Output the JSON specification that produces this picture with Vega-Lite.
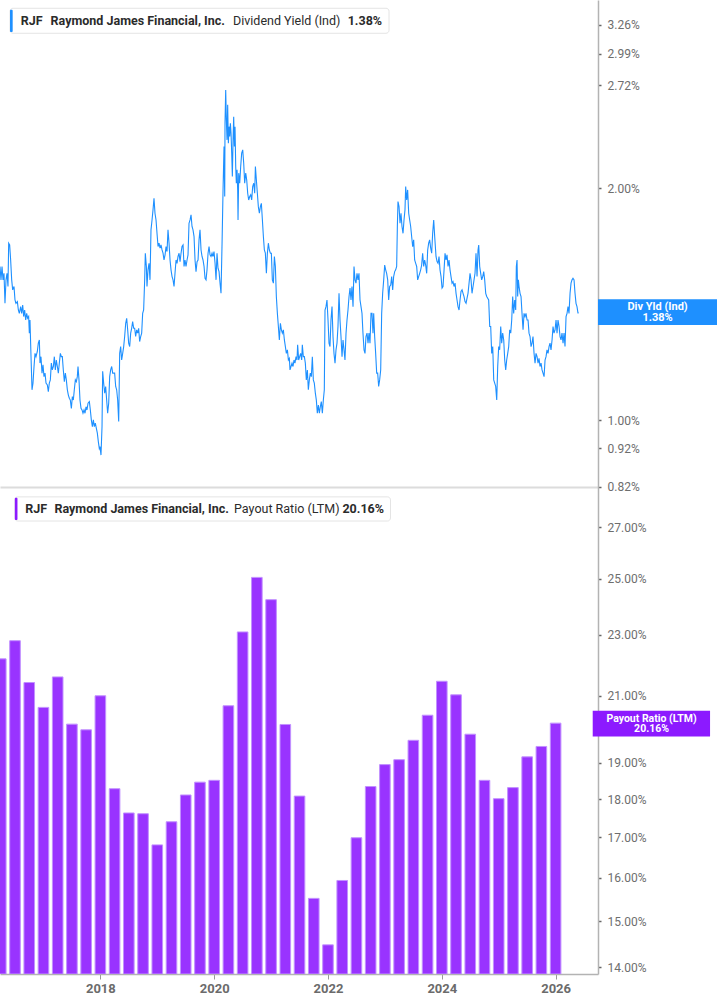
{
"$schema": "https://vega.github.io/schema/vega-lite/v6.json",
"padding": 0,
"spacing": 0,
"bounds": "flush",
"background": "white",
"config": {"view": {"stroke": null}, "font": "Roboto", "text": {"font": "Roboto"}},
"datasets": {
"yield": [
{"year":2016.324,"dy":1.583},{"year":2016.341,"dy":1.521},{"year":2016.359,"dy":1.583},{"year":2016.376,"dy":1.521},{"year":2016.393,"dy":1.551},{"year":2016.410,"dy":1.418},{"year":2016.428,"dy":1.521},{"year":2016.445,"dy":1.551},{"year":2016.462,"dy":1.491},{"year":2016.474,"dy":1.697},{"year":2016.491,"dy":1.688},{"year":2016.508,"dy":1.614},{"year":2016.526,"dy":1.521},{"year":2016.543,"dy":1.476},{"year":2016.566,"dy":1.491},{"year":2016.583,"dy":1.432},{"year":2016.600,"dy":1.418},{"year":2016.624,"dy":1.425},{"year":2016.641,"dy":1.390},{"year":2016.658,"dy":1.376},{"year":2016.681,"dy":1.404},{"year":2016.698,"dy":1.376},{"year":2016.716,"dy":1.411},{"year":2016.733,"dy":1.363},{"year":2016.750,"dy":1.390},{"year":2016.768,"dy":1.349},{"year":2016.785,"dy":1.376},{"year":2016.802,"dy":1.356},{"year":2016.819,"dy":1.363},{"year":2016.831,"dy":1.297},{"year":2016.842,"dy":1.349},{"year":2016.860,"dy":1.209},{"year":2016.877,"dy":1.095},{"year":2016.894,"dy":1.117},{"year":2016.912,"dy":1.174},{"year":2016.929,"dy":1.221},{"year":2016.946,"dy":1.209},{"year":2016.969,"dy":1.228},{"year":2016.986,"dy":1.259},{"year":2017.004,"dy":1.271},{"year":2017.015,"dy":1.186},{"year":2017.032,"dy":1.209},{"year":2017.050,"dy":1.151},{"year":2017.067,"dy":1.180},{"year":2017.084,"dy":1.139},{"year":2017.102,"dy":1.151},{"year":2017.119,"dy":1.117},{"year":2017.142,"dy":1.111},{"year":2017.159,"dy":1.089},{"year":2017.176,"dy":1.117},{"year":2017.194,"dy":1.128},{"year":2017.211,"dy":1.186},{"year":2017.228,"dy":1.162},{"year":2017.246,"dy":1.174},{"year":2017.263,"dy":1.209},{"year":2017.280,"dy":1.162},{"year":2017.297,"dy":1.197},{"year":2017.315,"dy":1.174},{"year":2017.332,"dy":1.151},{"year":2017.349,"dy":1.186},{"year":2017.367,"dy":1.221},{"year":2017.384,"dy":1.209},{"year":2017.401,"dy":1.209},{"year":2017.418,"dy":1.162},{"year":2017.436,"dy":1.122},{"year":2017.453,"dy":1.151},{"year":2017.470,"dy":1.128},{"year":2017.488,"dy":1.095},{"year":2017.505,"dy":1.078},{"year":2017.522,"dy":1.068},{"year":2017.539,"dy":1.062},{"year":2017.557,"dy":1.036},{"year":2017.574,"dy":1.073},{"year":2017.591,"dy":1.062},{"year":2017.608,"dy":1.095},{"year":2017.626,"dy":1.128},{"year":2017.643,"dy":1.122},{"year":2017.660,"dy":1.139},{"year":2017.672,"dy":1.174},{"year":2017.689,"dy":1.128},{"year":2017.706,"dy":1.062},{"year":2017.724,"dy":1.036},{"year":2017.741,"dy":1.031},{"year":2017.758,"dy":1.021},{"year":2017.776,"dy":1.031},{"year":2017.793,"dy":1.021},{"year":2017.810,"dy":1.041},{"year":2017.827,"dy":1.031},{"year":2017.845,"dy":1.052},{"year":2017.868,"dy":1.057},{"year":2017.885,"dy":1.031},{"year":2017.902,"dy":1.001},{"year":2017.920,"dy":0.981},{"year":2017.937,"dy":1.001},{"year":2017.954,"dy":0.981},{"year":2017.971,"dy":0.991},{"year":2017.989,"dy":0.976},{"year":2018.006,"dy":0.962},{"year":2018.023,"dy":0.938},{"year":2018.040,"dy":0.919},{"year":2018.052,"dy":0.924},{"year":2018.069,"dy":0.901},{"year":2018.087,"dy":0.981},{"year":2018.098,"dy":1.157},{"year":2018.115,"dy":1.117},{"year":2018.133,"dy":1.084},{"year":2018.150,"dy":1.106},{"year":2018.167,"dy":1.062},{"year":2018.184,"dy":1.021},{"year":2018.202,"dy":1.052},{"year":2018.219,"dy":1.139},{"year":2018.236,"dy":1.162},{"year":2018.254,"dy":1.174},{"year":2018.271,"dy":1.151},{"year":2018.288,"dy":1.151},{"year":2018.305,"dy":1.151},{"year":2018.323,"dy":1.106},{"year":2018.340,"dy":1.095},{"year":2018.357,"dy":1.062},{"year":2018.375,"dy":0.996},{"year":2018.392,"dy":1.221},{"year":2018.409,"dy":1.246},{"year":2018.426,"dy":1.197},{"year":2018.444,"dy":1.221},{"year":2018.461,"dy":1.246},{"year":2018.478,"dy":1.284},{"year":2018.496,"dy":1.336},{"year":2018.513,"dy":1.356},{"year":2018.530,"dy":1.310},{"year":2018.547,"dy":1.259},{"year":2018.565,"dy":1.246},{"year":2018.582,"dy":1.297},{"year":2018.599,"dy":1.316},{"year":2018.616,"dy":1.343},{"year":2018.634,"dy":1.316},{"year":2018.651,"dy":1.316},{"year":2018.668,"dy":1.284},{"year":2018.686,"dy":1.310},{"year":2018.703,"dy":1.297},{"year":2018.720,"dy":1.316},{"year":2018.737,"dy":1.265},{"year":2018.755,"dy":1.284},{"year":2018.772,"dy":1.297},{"year":2018.789,"dy":1.376},{"year":2018.806,"dy":1.390},{"year":2018.824,"dy":1.521},{"year":2018.835,"dy":1.647},{"year":2018.853,"dy":1.583},{"year":2018.864,"dy":1.491},{"year":2018.881,"dy":1.567},{"year":2018.899,"dy":1.598},{"year":2018.916,"dy":1.521},{"year":2018.933,"dy":1.766},{"year":2018.951,"dy":1.819},{"year":2018.968,"dy":1.875},{"year":2018.985,"dy":1.941},{"year":2019.002,"dy":1.856},
{"year":2019.020,"dy":1.819},{"year":2019.037,"dy":1.748},{"year":2019.055,"dy":1.680},{"year":2019.072,"dy":1.697},{"year":2019.089,"dy":1.672},{"year":2019.106,"dy":1.688},{"year":2019.124,"dy":1.663},{"year":2019.141,"dy":1.647},{"year":2019.158,"dy":1.614},{"year":2019.176,"dy":1.639},{"year":2019.193,"dy":1.680},{"year":2019.210,"dy":1.655},{"year":2019.227,"dy":1.766},{"year":2019.245,"dy":1.697},{"year":2019.262,"dy":1.614},{"year":2019.279,"dy":1.567},{"year":2019.297,"dy":1.536},{"year":2019.314,"dy":1.521},{"year":2019.331,"dy":1.491},{"year":2019.348,"dy":1.551},{"year":2019.366,"dy":1.614},{"year":2019.383,"dy":1.598},{"year":2019.400,"dy":1.631},{"year":2019.418,"dy":1.647},{"year":2019.435,"dy":1.606},{"year":2019.452,"dy":1.647},{"year":2019.469,"dy":1.680},{"year":2019.487,"dy":1.688},{"year":2019.504,"dy":1.583},{"year":2019.521,"dy":1.614},{"year":2019.538,"dy":1.583},{"year":2019.556,"dy":1.614},{"year":2019.573,"dy":1.639},{"year":2019.590,"dy":1.801},{"year":2019.608,"dy":1.819},{"year":2019.625,"dy":1.847},{"year":2019.642,"dy":1.784},{"year":2019.659,"dy":1.766},{"year":2019.677,"dy":1.731},{"year":2019.694,"dy":1.614},{"year":2019.711,"dy":1.559},{"year":2019.729,"dy":1.606},{"year":2019.746,"dy":1.614},{"year":2019.763,"dy":1.714},{"year":2019.780,"dy":1.766},{"year":2019.798,"dy":1.663},{"year":2019.815,"dy":1.631},{"year":2019.832,"dy":1.614},{"year":2019.850,"dy":1.583},{"year":2019.867,"dy":1.528},{"year":2019.884,"dy":1.521},{"year":2019.901,"dy":1.567},{"year":2019.919,"dy":1.647},{"year":2019.936,"dy":1.680},{"year":2019.953,"dy":1.639},{"year":2019.970,"dy":1.631},{"year":2019.988,"dy":1.647},{"year":2020.005,"dy":1.631},{"year":2020.022,"dy":1.655},{"year":2020.040,"dy":1.598},{"year":2020.057,"dy":1.521},{"year":2020.074,"dy":1.647},{"year":2020.091,"dy":1.575},{"year":2020.109,"dy":1.559},{"year":2020.126,"dy":1.506},{"year":2020.143,"dy":1.461},{"year":2020.161,"dy":1.697},{"year":2020.178,"dy":1.990},{"year":2020.195,"dy":2.265},{"year":2020.207,"dy":1.951},{"year":2020.212,"dy":2.428},{"year":2020.224,"dy":2.683},{"year":2020.235,"dy":2.453},{"year":2020.247,"dy":2.311},{"year":2020.258,"dy":2.566},{"year":2020.270,"dy":2.288},{"year":2020.282,"dy":2.404},{"year":2020.293,"dy":2.334},{"year":2020.305,"dy":2.428},{"year":2020.316,"dy":2.357},{"year":2020.328,"dy":2.221},{"year":2020.339,"dy":2.071},{"year":2020.351,"dy":2.311},{"year":2020.362,"dy":2.477},{"year":2020.374,"dy":2.265},{"year":2020.385,"dy":2.404},{"year":2020.397,"dy":2.134},{"year":2020.408,"dy":2.030},{"year":2020.420,"dy":2.113},{"year":2020.431,"dy":1.990},{"year":2020.437,"dy":1.819},{"year":2020.449,"dy":2.092},{"year":2020.466,"dy":2.030},{"year":2020.483,"dy":2.134},{"year":2020.500,"dy":2.221},{"year":2020.518,"dy":2.243},{"year":2020.535,"dy":2.155},{"year":2020.552,"dy":2.030},{"year":2020.570,"dy":2.092},{"year":2020.587,"dy":2.050},{"year":2020.604,"dy":1.970},{"year":2020.621,"dy":1.931},{"year":2020.639,"dy":1.951},{"year":2020.656,"dy":1.961},{"year":2020.673,"dy":1.931},{"year":2020.690,"dy":2.010},{"year":2020.708,"dy":2.030},{"year":2020.725,"dy":1.970},{"year":2020.737,"dy":2.134},{"year":2020.754,"dy":2.050},{"year":2020.771,"dy":1.970},{"year":2020.788,"dy":1.893},{"year":2020.806,"dy":1.856},{"year":2020.823,"dy":1.893},{"year":2020.840,"dy":1.912},{"year":2020.858,"dy":1.819},{"year":2020.875,"dy":1.731},{"year":2020.892,"dy":1.663},{"year":2020.909,"dy":1.647},{"year":2020.927,"dy":1.551},{"year":2020.944,"dy":1.647},{"year":2020.961,"dy":1.697},{"year":2020.978,"dy":1.663},{"year":2020.996,"dy":1.647},{"year":2021.013,"dy":1.647},{"year":2021.030,"dy":1.521},{"year":2021.048,"dy":1.506},{"year":2021.065,"dy":1.631},{"year":2021.082,"dy":1.583},{"year":2021.099,"dy":1.447},{"year":2021.117,"dy":1.376},{"year":2021.134,"dy":1.323},{"year":2021.151,"dy":1.271},{"year":2021.169,"dy":1.336},{"year":2021.186,"dy":1.310},{"year":2021.203,"dy":1.297},{"year":2021.220,"dy":1.310},{"year":2021.238,"dy":1.271},{"year":2021.255,"dy":1.246},{"year":2021.272,"dy":1.221},{"year":2021.290,"dy":1.234},{"year":2021.307,"dy":1.197},{"year":2021.324,"dy":1.203},
{"year":2021.335,"dy":1.162},{"year":2021.352,"dy":1.174},{"year":2021.370,"dy":1.186},{"year":2021.387,"dy":1.174},{"year":2021.404,"dy":1.197},{"year":2021.421,"dy":1.186},{"year":2021.439,"dy":1.209},{"year":2021.456,"dy":1.197},{"year":2021.467,"dy":1.253},{"year":2021.485,"dy":1.197},{"year":2021.502,"dy":1.209},{"year":2021.519,"dy":1.221},{"year":2021.537,"dy":1.197},{"year":2021.548,"dy":1.253},{"year":2021.565,"dy":1.209},{"year":2021.583,"dy":1.209},{"year":2021.600,"dy":1.186},{"year":2021.617,"dy":1.128},{"year":2021.635,"dy":1.162},{"year":2021.652,"dy":1.095},{"year":2021.669,"dy":1.128},{"year":2021.686,"dy":1.151},{"year":2021.704,"dy":1.139},{"year":2021.721,"dy":1.209},{"year":2021.738,"dy":1.128},{"year":2021.755,"dy":1.117},{"year":2021.773,"dy":1.084},{"year":2021.790,"dy":1.062},{"year":2021.807,"dy":1.021},{"year":2021.825,"dy":1.046},{"year":2021.842,"dy":1.021},{"year":2021.859,"dy":1.041},{"year":2021.876,"dy":1.057},{"year":2021.894,"dy":1.021},{"year":2021.911,"dy":1.062},{"year":2021.928,"dy":1.095},{"year":2021.940,"dy":1.390},{"year":2021.957,"dy":1.404},{"year":2021.974,"dy":1.432},{"year":2021.992,"dy":1.349},{"year":2022.009,"dy":1.259},{"year":2022.026,"dy":1.246},{"year":2022.043,"dy":1.349},{"year":2022.061,"dy":1.404},{"year":2022.078,"dy":1.284},{"year":2022.095,"dy":1.221},{"year":2022.113,"dy":1.186},{"year":2022.130,"dy":1.234},{"year":2022.147,"dy":1.259},{"year":2022.164,"dy":1.323},{"year":2022.182,"dy":1.461},{"year":2022.199,"dy":1.349},{"year":2022.216,"dy":1.284},{"year":2022.234,"dy":1.209},{"year":2022.251,"dy":1.271},{"year":2022.268,"dy":1.234},{"year":2022.285,"dy":1.197},{"year":2022.303,"dy":1.297},{"year":2022.320,"dy":1.349},{"year":2022.337,"dy":1.390},{"year":2022.355,"dy":1.447},{"year":2022.372,"dy":1.484},{"year":2022.389,"dy":1.432},{"year":2022.406,"dy":1.491},{"year":2022.424,"dy":1.404},{"year":2022.441,"dy":1.583},{"year":2022.458,"dy":1.521},{"year":2022.475,"dy":1.506},{"year":2022.493,"dy":1.551},{"year":2022.510,"dy":1.521},{"year":2022.527,"dy":1.551},{"year":2022.545,"dy":1.432},{"year":2022.562,"dy":1.404},{"year":2022.579,"dy":1.376},{"year":2022.596,"dy":1.297},{"year":2022.614,"dy":1.234},{"year":2022.631,"dy":1.221},{"year":2022.648,"dy":1.284},{"year":2022.666,"dy":1.297},{"year":2022.683,"dy":1.259},{"year":2022.700,"dy":1.297},{"year":2022.717,"dy":1.259},{"year":2022.735,"dy":1.376},{"year":2022.752,"dy":1.376},{"year":2022.769,"dy":1.297},{"year":2022.781,"dy":1.376},{"year":2022.798,"dy":1.284},{"year":2022.815,"dy":1.221},{"year":2022.833,"dy":1.151},{"year":2022.850,"dy":1.151},{"year":2022.867,"dy":1.106},{"year":2022.884,"dy":1.128},{"year":2022.902,"dy":1.162},{"year":2022.919,"dy":1.376},{"year":2022.936,"dy":1.461},{"year":2022.954,"dy":1.521},{"year":2022.971,"dy":1.590},{"year":2022.988,"dy":1.567},{"year":2023.005,"dy":1.551},{"year":2023.023,"dy":1.521},{"year":2023.040,"dy":1.432},{"year":2023.057,"dy":1.491},{"year":2023.075,"dy":1.498},{"year":2023.092,"dy":1.536},{"year":2023.109,"dy":1.476},{"year":2023.126,"dy":1.536},{"year":2023.144,"dy":1.559},{"year":2023.161,"dy":1.567},{"year":2023.178,"dy":1.583},{"year":2023.190,"dy":1.784},{"year":2023.201,"dy":1.922},{"year":2023.219,"dy":1.893},{"year":2023.236,"dy":1.801},{"year":2023.253,"dy":1.856},{"year":2023.270,"dy":1.784},{"year":2023.288,"dy":1.748},{"year":2023.305,"dy":1.819},{"year":2023.322,"dy":1.875},{"year":2023.334,"dy":2.010},{"year":2023.351,"dy":1.931},{"year":2023.368,"dy":1.990},{"year":2023.386,"dy":1.856},{"year":2023.403,"dy":1.819},{"year":2023.420,"dy":1.784},{"year":2023.437,"dy":1.731},{"year":2023.455,"dy":1.680},{"year":2023.472,"dy":1.714},{"year":2023.489,"dy":1.614},{"year":2023.507,"dy":1.598},{"year":2023.524,"dy":1.583},{"year":2023.541,"dy":1.521},{"year":2023.558,"dy":1.536},{"year":2023.576,"dy":1.551},{"year":2023.593,"dy":1.567},{"year":2023.610,"dy":1.590},{"year":2023.627,"dy":1.647},{"year":2023.645,"dy":1.583},{"year":2023.662,"dy":1.614},{"year":2023.679,"dy":1.590},{"year":2023.697,"dy":1.551},{"year":2023.714,"dy":1.663},{"year":2023.731,"dy":1.697},{"year":2023.748,"dy":1.714},{"year":2023.766,"dy":1.672},{"year":2023.783,"dy":1.647},{"year":2023.800,"dy":1.748},{"year":2023.818,"dy":1.819},{"year":2023.835,"dy":1.731},
{"year":2023.858,"dy":1.631},{"year":2023.876,"dy":1.606},{"year":2023.893,"dy":1.598},{"year":2023.910,"dy":1.631},{"year":2023.927,"dy":1.567},{"year":2023.945,"dy":1.536},{"year":2023.962,"dy":1.484},{"year":2023.979,"dy":1.491},{"year":2023.997,"dy":1.567},{"year":2024.014,"dy":1.647},{"year":2024.031,"dy":1.614},{"year":2024.048,"dy":1.639},{"year":2024.066,"dy":1.583},{"year":2024.083,"dy":1.614},{"year":2024.100,"dy":1.567},{"year":2024.117,"dy":1.536},{"year":2024.135,"dy":1.506},{"year":2024.152,"dy":1.513},{"year":2024.169,"dy":1.491},{"year":2024.187,"dy":1.506},{"year":2024.204,"dy":1.461},{"year":2024.221,"dy":1.432},{"year":2024.238,"dy":1.404},{"year":2024.256,"dy":1.390},{"year":2024.273,"dy":1.432},{"year":2024.290,"dy":1.469},{"year":2024.308,"dy":1.476},{"year":2024.325,"dy":1.461},{"year":2024.342,"dy":1.447},{"year":2024.359,"dy":1.425},{"year":2024.377,"dy":1.418},{"year":2024.394,"dy":1.440},{"year":2024.411,"dy":1.461},{"year":2024.429,"dy":1.506},{"year":2024.446,"dy":1.551},{"year":2024.463,"dy":1.521},{"year":2024.480,"dy":1.461},{"year":2024.498,"dy":1.491},{"year":2024.515,"dy":1.521},{"year":2024.532,"dy":1.551},{"year":2024.549,"dy":1.647},{"year":2024.567,"dy":1.536},{"year":2024.584,"dy":1.663},{"year":2024.596,"dy":1.688},{"year":2024.613,"dy":1.583},{"year":2024.630,"dy":1.551},{"year":2024.647,"dy":1.521},{"year":2024.665,"dy":1.536},{"year":2024.682,"dy":1.559},{"year":2024.699,"dy":1.521},{"year":2024.717,"dy":1.461},{"year":2024.734,"dy":1.447},{"year":2024.751,"dy":1.440},{"year":2024.768,"dy":1.432},{"year":2024.786,"dy":1.323},{"year":2024.803,"dy":1.323},{"year":2024.820,"dy":1.221},{"year":2024.838,"dy":1.246},{"year":2024.855,"dy":1.128},{"year":2024.872,"dy":1.117},{"year":2024.889,"dy":1.106},{"year":2024.907,"dy":1.062},{"year":2024.924,"dy":1.174},{"year":2024.941,"dy":1.246},{"year":2024.958,"dy":1.234},{"year":2024.976,"dy":1.323},{"year":2024.993,"dy":1.259},{"year":2025.010,"dy":1.297},{"year":2025.028,"dy":1.271},{"year":2025.045,"dy":1.197},{"year":2025.062,"dy":1.162},{"year":2025.079,"dy":1.197},{"year":2025.097,"dy":1.221},{"year":2025.114,"dy":1.246},{"year":2025.131,"dy":1.310},{"year":2025.149,"dy":1.297},{"year":2025.166,"dy":1.349},{"year":2025.183,"dy":1.447},{"year":2025.200,"dy":1.376},{"year":2025.218,"dy":1.432},{"year":2025.235,"dy":1.390},{"year":2025.246,"dy":1.583},{"year":2025.258,"dy":1.614},{"year":2025.269,"dy":1.447},{"year":2025.281,"dy":1.521},{"year":2025.293,"dy":1.491},{"year":2025.310,"dy":1.461},{"year":2025.327,"dy":1.447},{"year":2025.344,"dy":1.376},{"year":2025.362,"dy":1.310},{"year":2025.379,"dy":1.376},{"year":2025.396,"dy":1.363},{"year":2025.413,"dy":1.376},{"year":2025.431,"dy":1.349},{"year":2025.448,"dy":1.349},{"year":2025.465,"dy":1.297},{"year":2025.483,"dy":1.284},{"year":2025.500,"dy":1.246},{"year":2025.517,"dy":1.259},{"year":2025.534,"dy":1.284},{"year":2025.552,"dy":1.221},{"year":2025.569,"dy":1.186},{"year":2025.586,"dy":1.221},{"year":2025.604,"dy":1.209},{"year":2025.621,"dy":1.186},{"year":2025.638,"dy":1.203},{"year":2025.655,"dy":1.174},{"year":2025.673,"dy":1.186},{"year":2025.690,"dy":1.162},{"year":2025.707,"dy":1.151},{"year":2025.725,"dy":1.139},{"year":2025.742,"dy":1.197},{"year":2025.759,"dy":1.209},{"year":2025.776,"dy":1.234},{"year":2025.794,"dy":1.221},{"year":2025.811,"dy":1.246},{"year":2025.828,"dy":1.259},{"year":2025.845,"dy":1.234},{"year":2025.863,"dy":1.271},{"year":2025.880,"dy":1.323},{"year":2025.897,"dy":1.297},{"year":2025.915,"dy":1.310},{"year":2025.932,"dy":1.349},{"year":2025.949,"dy":1.297},{"year":2025.966,"dy":1.349},{"year":2025.984,"dy":1.323},{"year":2026.001,"dy":1.284},{"year":2026.018,"dy":1.271},{"year":2026.035,"dy":1.297},{"year":2026.053,"dy":1.259},{"year":2026.070,"dy":1.297},{"year":2026.087,"dy":1.246},{"year":2026.105,"dy":1.363},{"year":2026.122,"dy":1.376},{"year":2026.139,"dy":1.404},{"year":2026.156,"dy":1.376},{"year":2026.174,"dy":1.461},{"year":2026.191,"dy":1.506},{"year":2026.208,"dy":1.521},{"year":2026.225,"dy":1.528},{"year":2026.243,"dy":1.521},{"year":2026.260,"dy":1.461},{"year":2026.277,"dy":1.418},{"year":2026.294,"dy":1.404},{"year":2026.312,"dy":1.376},{"year":2026.318,"dy":1.38}
],
"payout": [
{"year":2016.25,"ratio":22.19},{"year":2016.5,"ratio":22.80},{"year":2016.75,"ratio":21.42},{"year":2017.0,"ratio":20.64},{"year":2017.25,"ratio":21.60},{"year":2017.5,"ratio":20.13},{"year":2017.75,"ratio":19.96},{"year":2018.0,"ratio":21.00},{"year":2018.25,"ratio":18.28},{"year":2018.5,"ratio":17.63},{"year":2018.75,"ratio":17.61},{"year":2019.0,"ratio":16.81},{"year":2019.25,"ratio":17.40},{"year":2019.5,"ratio":18.11},{"year":2019.75,"ratio":18.46},{"year":2020.0,"ratio":18.51},{"year":2020.25,"ratio":20.69},{"year":2020.5,"ratio":23.10},{"year":2020.75,"ratio":25.06},{"year":2021.0,"ratio":24.24},{"year":2021.25,"ratio":20.12},{"year":2021.5,"ratio":18.08},{"year":2021.75,"ratio":15.52},{"year":2022.0,"ratio":14.48},{"year":2022.25,"ratio":15.94},{"year":2022.5,"ratio":16.99},{"year":2022.75,"ratio":18.34},{"year":2023.0,"ratio":18.95},{"year":2023.25,"ratio":19.09},{"year":2023.5,"ratio":19.65},{"year":2023.75,"ratio":20.40},{"year":2024.0,"ratio":21.46},{"year":2024.25,"ratio":21.03},{"year":2024.5,"ratio":19.83},{"year":2024.75,"ratio":18.51},{"year":2025.0,"ratio":18.01},{"year":2025.25,"ratio":18.31},{"year":2025.5,"ratio":19.17},{"year":2025.75,"ratio":19.47},{"year":2026.0,"ratio":20.16}
]
},
"vconcat": [
{
"width": 598,
"height": 487,
"layer": [
{
"data": {"name": "yield"},
"mark": {"type": "line", "color": "#1e90ff", "strokeWidth": 1.1, "clip": true},
"encoding": {
"x": {"field": "year", "type": "quantitative", "scale": {"domain": [2016.324, 2026.657], "nice": false, "zero": false},
"axis": {"orient": "bottom", "title": null, "labels": false, "ticks": false, "grid": false, "domainColor": "#dcdcdc", "domainWidth": 2, "minExtent": 0, "maxExtent": 0, "labelPadding": 0}},
"y": {"field": "dy", "type": "quantitative", "scale": {"type": "log", "domain": [0.819, 3.51], "nice": false},
"axis": {"orient": "right", "title": null, "grid": false, "values": [0.82, 0.92, 1, 2, 2.72, 2.99, 3.26], "labelExpr": "format(datum.value, '.2f') + '%'", "labelOverlap": false, "labelFlush": false, "domainColor": "#b3b3b3", "domainWidth": 1.5, "tickColor": "#666666", "tickSize": 3, "tickWidth": 1.5, "labelColor": "#6e6e6e", "labelFontSize": 12, "labelPadding": 6, "labelFont": "Roboto"}}
}
},
{
"data": {"values": [{}]},
"mark": {"type": "rect", "fill": "white", "stroke": "#e4e4e4", "strokeWidth": 1, "cornerRadius": 3},
"encoding": {
"x": {"datum": 2016.497, "type": "quantitative"},
"x2": {"datum": 2023.046},
"y": {"datum": 3.4245, "type": "quantitative"},
"y2": {"datum": 3.178}
}
},
{
"data": {"values": [{}]},
"mark": {"type": "rect", "fill": "#1e90ff", "cornerRadius": 1},
"encoding": {
"x": {"datum": 2016.497, "type": "quantitative"},
"x2": {"datum": 2016.543},
"y": {"datum": 3.41, "type": "quantitative"},
"y2": {"datum": 3.19}
}
},
{
"data": {"values": [
{"label": "RJF", "pos": 2016.682},
{"label": "Raymond James Financial, Inc.", "pos": 2017.197},
{"label": "1.38%", "pos": 2022.332}
]},
"mark": {"type": "text", "align": "left", "baseline": "alphabetic", "fontSize": 12.5, "fontWeight": "bold", "color": "#2b2b2b", "font": "Roboto"},
"encoding": {
"x": {"field": "pos", "type": "quantitative"},
"y": {"datum": 3.255, "type": "quantitative"},
"text": {"field": "label"}
}
},
{
"data": {"values": [{"label": "Dividend Yield (Ind)", "pos": 2020.35}]},
"mark": {"type": "text", "align": "left", "baseline": "alphabetic", "fontSize": 12.5, "fontWeight": "normal", "color": "#2b2b2b", "font": "Roboto"},
"encoding": {
"x": {"field": "pos", "type": "quantitative"},
"y": {"datum": 3.255, "type": "quantitative"},
"text": {"field": "label"}
}
},
{
"data": {"values": [{}]},
"mark": {"type": "rect", "fill": "#1e90ff"},
"encoding": {
"x": {"datum": 2026.657, "type": "quantitative"},
"x2": {"datum": 2028.714},
"y": {"datum": 1.4355, "type": "quantitative"},
"y2": {"datum": 1.3294}
}
},
{
"data": {"values": [{"label": "Div Yld (Ind)", "lv": 1.404}, {"label": "1.38%", "lv": 1.3587}]},
"mark": {"type": "text", "align": "center", "baseline": "middle", "fontSize": 11, "fontWeight": "bold", "color": "white", "font": "Roboto"},
"encoding": {
"x": {"datum": 2027.686, "type": "quantitative"},
"y": {"field": "lv", "type": "quantitative"},
"text": {"field": "label"}
}
}
]
},
{
"width": 598,
"height": 487,
"layer": [
{
"data": {"name": "payout"},
"mark": {"type": "bar", "align": "center", "color": "#9933ff", "stroke": "#c291ff", "strokeWidth": 1, "width": 10.6, "clip": true},
"encoding": {
"x": {"field": "year", "type": "quantitative", "scale": {"domain": [2016.324, 2026.657], "nice": false, "zero": false},
"axis": {"orient": "bottom", "title": null, "grid": false, "values": [2018, 2020, 2022, 2024, 2026], "format": "d", "labelFontWeight": "bold", "labelFontSize": 13, "labelColor": "#6b6b6b", "labelFont": "Roboto", "tickSize": 5, "tickColor": "#999999", "domainColor": "#b3b3b3", "domainWidth": 1.5, "labelPadding": 3, "labelFlush": false}},
"y": {"field": "ratio", "type": "quantitative", "stack": null, "scale": {"type": "log", "domain": [13.863, 28.68], "nice": false},
"axis": {"orient": "right", "title": null, "grid": false, "values": [14, 15, 16, 17, 18, 19, 20, 21, 23, 25, 27], "labelExpr": "format(datum.value, '.2f') + '%'", "labelOverlap": false, "labelFlush": false, "domainColor": "#b3b3b3", "domainWidth": 1.5, "tickColor": "#666666", "tickSize": 3, "tickWidth": 1.5, "labelColor": "#6e6e6e", "labelFontSize": 12, "labelPadding": 6, "labelFont": "Roboto"}},
"y2": {"datum": 13.863}
}
},
{
"data": {"values": [{}]},
"mark": {"type": "rect", "fill": "white", "stroke": "#e4e4e4", "strokeWidth": 1, "cornerRadius": 3},
"encoding": {
"x": {"datum": 2016.497, "type": "quantitative"},
"x2": {"datum": 2023.098},
"y": {"datum": 28.26, "type": "quantitative"},
"y2": {"datum": 27.26}
}
},
{
"data": {"values": [{}]},
"mark": {"type": "rect", "fill": "#8c1aff", "cornerRadius": 1},
"encoding": {
"x": {"datum": 2016.497, "type": "quantitative"},
"x2": {"datum": 2016.543},
"y": {"datum": 28.22, "type": "quantitative"},
"y2": {"datum": 27.3}
}
},
{
"data": {"values": [
{"label": "RJF", "pos": 2016.68},
{"label": "Raymond James Financial, Inc.", "pos": 2017.193},
{"label": "20.16%", "pos": 2022.254}
]},
"mark": {"type": "text", "align": "left", "baseline": "alphabetic", "fontSize": 12.5, "fontWeight": "bold", "color": "#2b2b2b", "font": "Roboto"},
"encoding": {
"x": {"field": "pos", "type": "quantitative"},
"y": {"datum": 27.6, "type": "quantitative"},
"text": {"field": "label"}
}
},
{
"data": {"values": [{"label": "Payout Ratio (LTM)", "pos": 2020.349}]},
"mark": {"type": "text", "align": "left", "baseline": "alphabetic", "fontSize": 12.5, "fontWeight": "normal", "color": "#2b2b2b", "font": "Roboto"},
"encoding": {
"x": {"field": "pos", "type": "quantitative"},
"y": {"datum": 27.6, "type": "quantitative"},
"text": {"field": "label"}
}
},
{
"data": {"values": [{}]},
"mark": {"type": "rect", "fill": "#8c1aff"},
"encoding": {
"x": {"datum": 2026.652, "type": "quantitative"},
"x2": {"datum": 2028.714},
"y": {"datum": 20.54, "type": "quantitative"},
"y2": {"datum": 19.76}
}
},
{
"data": {"values": [{"label": "Payout Ratio (LTM)", "lv": 20.29}, {"label": "20.16%", "lv": 19.98}]},
"mark": {"type": "text", "align": "center", "baseline": "middle", "fontSize": 10.5, "fontWeight": "bold", "color": "white", "font": "Roboto"},
"encoding": {
"x": {"datum": 2027.686, "type": "quantitative"},
"y": {"field": "lv", "type": "quantitative"},
"text": {"field": "label"}
}
}
]
}
]
}
